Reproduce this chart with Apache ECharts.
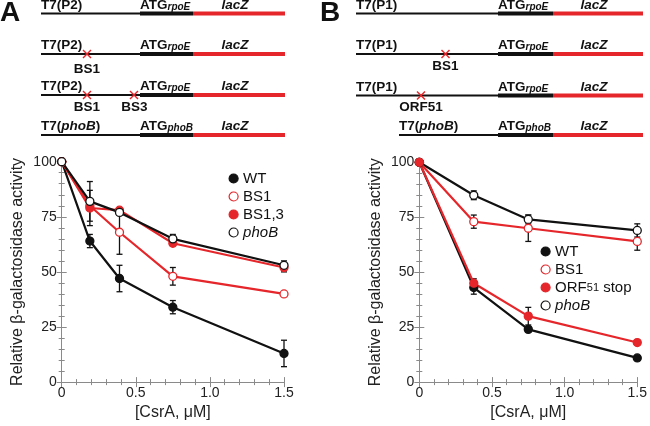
<!DOCTYPE html>
<html><head><meta charset="utf-8">
<script src="https://cdn.jsdelivr.net/npm/echarts@6/dist/echarts.min.js"></script>
<style>html,body{margin:0;padding:0;background:#fff}#c{width:650px;height:426px}</style>
</head><body><div id="c"></div>
<script>
// ---------- DATA ----------
const xTicks = ['0', '0.5', '1.0', '1.5'];
const yTicks = ['0', '25', '50', '75', '100'];
// Panel A
const xA = [0, 0.19, 0.39, 0.75, 1.5];
const wtA = [100, 64, 47, 34, 13];
const wtAErr = [0, 3, 6, 3, 6];
const bs1A = [100, 80, 68, 48, 40];
const bs1AErr = [0, 0, 10, 4, 0];
const bs13A = [100, 79, 78, 63, 52];
const bs13AErr = [0, 8, 0, 1, 2];
const phoBA = [100, 82, 77, 65, 53];
const phoBAErr = [0, 9, 0, 2, 2];
// Panel B
const xB = [0, 0.375, 0.75, 1.5];
const wtB = [100, 43, 24, 11];
const wtBErr = [0, 3, 1, 0];
const bs1B = [100, 73, 70, 64];
const bs1BErr = [0, 3, 6, 4];
const orfB = [100, 45, 30, 18];
const orfBErr = [0, 2, 4, 0];
const phoBB = [100, 85, 74, 69];
const phoBBErr = [0, 2, 2, 3];

// ---------- STYLE ----------
const RED = '#e5262a', BLK = '#111', AX = '#8a8a8a';
const FONT = '"Liberation Sans", Arial, Helvetica, sans-serif';
const SF = 'bold 13.5px ' + FONT;

const pts = (xs, ys) => xs.map((x, i) => [x, ys[i]]);
const errs = (xs, ys, es) => xs.map((x, i) => [x, ys[i] - es[i], ys[i] + es[i]]).filter((d, i) => es[i] > 0);

function lineSeries(name, xs, ys, color, filled, gi) {
  return {
    name, type: 'line', xAxisIndex: gi * 2, yAxisIndex: gi * 2,
    data: pts(xs, ys), symbol: 'circle', symbolSize: 8,
    lineStyle: { color, width: 2.2 },
    itemStyle: { color: filled ? color : '#fff', borderColor: color, borderWidth: 1.3 },
    z: 3, animation: false
  };
}
function errSeries(xs, ys, es, gi) {
  return {
    type: 'custom', xAxisIndex: gi * 2, yAxisIndex: gi * 2, z: 2, animation: false,
    data: errs(xs, ys, es),
    renderItem: (params, api) => {
      const lo = api.coord([api.value(0), api.value(1)]);
      const hi = api.coord([api.value(0), api.value(2)]);
      const w = 3;
      const st = { stroke: BLK, lineWidth: 1.3 };
      return { type: 'group', children: [
        { type: 'line', shape: { x1: lo[0], y1: lo[1], x2: hi[0], y2: hi[1] }, style: st },
        { type: 'line', shape: { x1: lo[0] - w, y1: lo[1], x2: lo[0] + w, y2: lo[1] }, style: st },
        { type: 'line', shape: { x1: hi[0] - w, y1: hi[1], x2: hi[0] + w, y2: hi[1] }, style: st }
      ]};
    }
  };
}

function xAxes(gi) {
  const base = {
    gridIndex: gi, type: 'value', min: 0, max: 1.5, interval: 0.5,
    axisLine: { show: true, lineStyle: { color: AX, width: 1 } },
    axisTick: { show: true, inside: true, length: 5, lineStyle: { color: AX } },
    minorTick: { show: true, splitNumber: 5, length: 3, lineStyle: { color: AX } },
    splitLine: { show: false }
  };
  return [
    Object.assign({}, base, {
      position: 'bottom',
      axisLabel: { color: '#222', fontSize: 14, fontFamily: FONT, margin: 4,
        formatter: v => xTicks[Math.round(v / 0.5)] },
      name: '[CsrA, \u03bcM]', nameLocation: 'middle', nameGap: 22,
      nameTextStyle: { color: '#222', fontSize: 16, fontFamily: FONT }
    }),
    Object.assign({}, base, { position: 'top', axisLabel: { show: false } })
  ];
}
function yAxes(gi) {
  const base = {
    gridIndex: gi, type: 'value', min: 0, max: 100, interval: 25,
    axisLine: { show: true, lineStyle: { color: AX, width: 1 } },
    axisTick: { show: true, inside: true, length: 5, lineStyle: { color: AX } },
    minorTick: { show: true, splitNumber: 5, length: 3, lineStyle: { color: AX } },
    splitLine: { show: false }
  };
  return [
    Object.assign({}, base, {
      position: 'left',
      axisLabel: { color: '#222', fontSize: 14, fontFamily: FONT, margin: 5,
        formatter: v => yTicks[Math.round(v / 25)] },
      name: 'Relative \u03b2-galactosidase activity', nameLocation: 'middle', nameGap: 36,
      nameRotate: 90,
      nameTextStyle: { color: '#222', fontSize: 16, fontFamily: FONT }
    }),
    Object.assign({}, base, { position: 'right', axisLabel: { show: false } })
  ];
}

const legendRich = {
  n: { fontSize: 15, fontFamily: FONT, color: '#111' },
  i: { fontSize: 15, fontFamily: FONT, color: '#111', fontStyle: 'italic' },
  s: { fontSize: 11, fontFamily: FONT, color: '#111' }
};
const legendLabels = {
  'A-WT': '{n|WT}', 'A-BS1': '{n|BS1}', 'A-BS1,3': '{n|BS1,3}', 'A-phoB': '{i|phoB}',
  'B-WT': '{n|WT}', 'B-BS1': '{n|BS1}', 'B-ORF': '{n|ORF}{s|51}{n| stop}', 'B-phoB': '{i|phoB}'
};
function legendItem(name, color, filled) {
  return { name, icon: 'circle', itemStyle: { color: filled ? color : '#fff', borderColor: color, borderWidth: 1.2 } };
}
function legend(left, top, items) {
  return {
    orient: 'vertical', left, top, padding: 0, itemGap: 3, itemWidth: 9, itemHeight: 9,
    selectedMode: false, data: items,
    formatter: n => legendLabels[n],
    textStyle: { rich: legendRich, fontSize: 15, fontFamily: FONT }
  };
}

// ---------- SCHEMATICS ----------
const g = [];
function txt(x, y, text, opts) {
  g.push({ type: 'text', x, y, silent: true, style: Object.assign({
    text, fill: '#111', font: SF, align: 'left', verticalAlign: 'bottom' }, opts || {}) });
}
function seg(x1, x2, y, color, w) {
  g.push({ type: 'line', silent: true, shape: { x1, y1: y, x2, y2: y }, style: { stroke: color, lineWidth: w } });
}
function cross(cx, cy) {
  const s = 4;
  g.push({ type: 'line', silent: true, shape: { x1: cx - s, y1: cy - s, x2: cx + s, y2: cy + s }, style: { stroke: RED, lineWidth: 1.4 } });
  g.push({ type: 'line', silent: true, shape: { x1: cx - s, y1: cy + s, x2: cx + s, y2: cy - s }, style: { stroke: RED, lineWidth: 1.4 } });
}
const atgRich = (sub) => ({
  text: '{b|ATG}{s|' + sub + '}',
  rich: {
    b: { font: SF, fill: '#111', verticalAlign: 'bottom', lineHeight: 15 },
    s: { font: 'italic bold 10px ' + FONT, fill: '#111', verticalAlign: 'bottom', lineHeight: 13 }
  }
});
function construct(y, xp, xa, xl, xe, prom, atgSub, promItalic) {
  seg(xp, xa, y, BLK, 1.8);
  seg(xa, xl, y, BLK, 4);
  seg(xl, xe, y, RED, 4);
  if (promItalic) {
    g.push({ type: 'text', x: xp, y: y - 1.5, silent: true, style: {
      text: '{b|T7(}{i|phoB}{b|)}', align: 'left', verticalAlign: 'bottom',
      rich: { b: { font: SF, fill: '#111' }, i: { font: 'italic ' + SF, fill: '#111' } } } });
  } else {
    txt(xp, y - 1.5, prom);
  }
  g.push({ type: 'text', x: xa, y: y - 1.5, silent: true, style: Object.assign({ align: 'left', verticalAlign: 'bottom' }, atgRich(atgSub)) });
  txt((xl + xe) / 2 - 4, y - 1.5, 'lacZ', { font: 'italic ' + SF, align: 'center' });
}
// Panel A
construct(13.5, 41, 140, 193, 285, 'T7(P2)', 'rpoE');
construct(54, 41, 140, 193, 285, 'T7(P2)', 'rpoE');
construct(95, 41, 140, 193, 285, 'T7(P2)', 'rpoE');
construct(135, 41, 140, 193, 285, 'T7(phoB)', 'phoB', true);
cross(87, 54); txt(87, 69, 'BS1', { align: 'center', verticalAlign: 'middle' });
cross(87, 95); cross(134, 95);
txt(87, 107, 'BS1', { align: 'center', verticalAlign: 'middle' });
txt(134.5, 107, 'BS3', { align: 'center', verticalAlign: 'middle' });
// Panel B
construct(13.5, 356, 498, 553, 643, 'T7(P1)', 'rpoE');
construct(54, 356, 498, 553, 643, 'T7(P1)', 'rpoE');
construct(95.5, 356, 498, 553, 643, 'T7(P1)', 'rpoE');
construct(135, 399, 498, 553, 643, 'T7(phoB)', 'phoB', true);
cross(445.5, 54); txt(445.5, 66.5, 'BS1', { align: 'center', verticalAlign: 'middle' });
cross(421, 95.5); txt(421, 107, 'ORF51', { align: 'center', verticalAlign: 'middle' });
// Panel letters
txt(0, 13, 'A', { font: 'bold 28px ' + FONT, verticalAlign: 'middle' });
txt(320, 13, 'B', { font: 'bold 28px ' + FONT, verticalAlign: 'middle' });

// ---------- CHART ----------
const chart = echarts.init(document.getElementById('c'), null, { renderer: 'canvas' });
chart.setOption({
  animation: false,
  grid: [
    { left: 61.7, top: 161.7, width: 222.3, height: 223.6 },
    { left: 419.3, top: 162.3, width: 221.7, height: 223.7 }
  ],
  xAxis: [...xAxes(0), ...xAxes(1)],
  yAxis: [...yAxes(0), ...yAxes(1)],
  legend: [
    legend(228.5, 171, [legendItem('A-WT', BLK, true), legendItem('A-BS1', RED, false),
      legendItem('A-BS1,3', RED, true), legendItem('A-phoB', BLK, false)]),
    legend(540.5, 244, [legendItem('B-WT', BLK, true), legendItem('B-BS1', RED, false),
      legendItem('B-ORF', RED, true), legendItem('B-phoB', BLK, false)])
  ],
  graphic: g,
  series: [
    errSeries(xA, wtA, wtAErr, 0), errSeries(xA, bs1A, bs1AErr, 0),
    errSeries(xA, bs13A, bs13AErr, 0), errSeries(xA, phoBA, phoBAErr, 0),
    lineSeries('A-WT', xA, wtA, BLK, true, 0),
    lineSeries('A-BS1', xA, bs1A, RED, false, 0),
    lineSeries('A-BS1,3', xA, bs13A, RED, true, 0),
    lineSeries('A-phoB', xA, phoBA, BLK, false, 0),
    errSeries(xB, wtB, wtBErr, 1), errSeries(xB, bs1B, bs1BErr, 1),
    errSeries(xB, orfB, orfBErr, 1), errSeries(xB, phoBB, phoBBErr, 1),
    lineSeries('B-phoB', xB, phoBB, BLK, false, 1),
    lineSeries('B-BS1', xB, bs1B, RED, false, 1),
    lineSeries('B-WT', xB, wtB, BLK, true, 1),
    lineSeries('B-ORF', xB, orfB, RED, true, 1)
  ]
});
</script></body></html>
